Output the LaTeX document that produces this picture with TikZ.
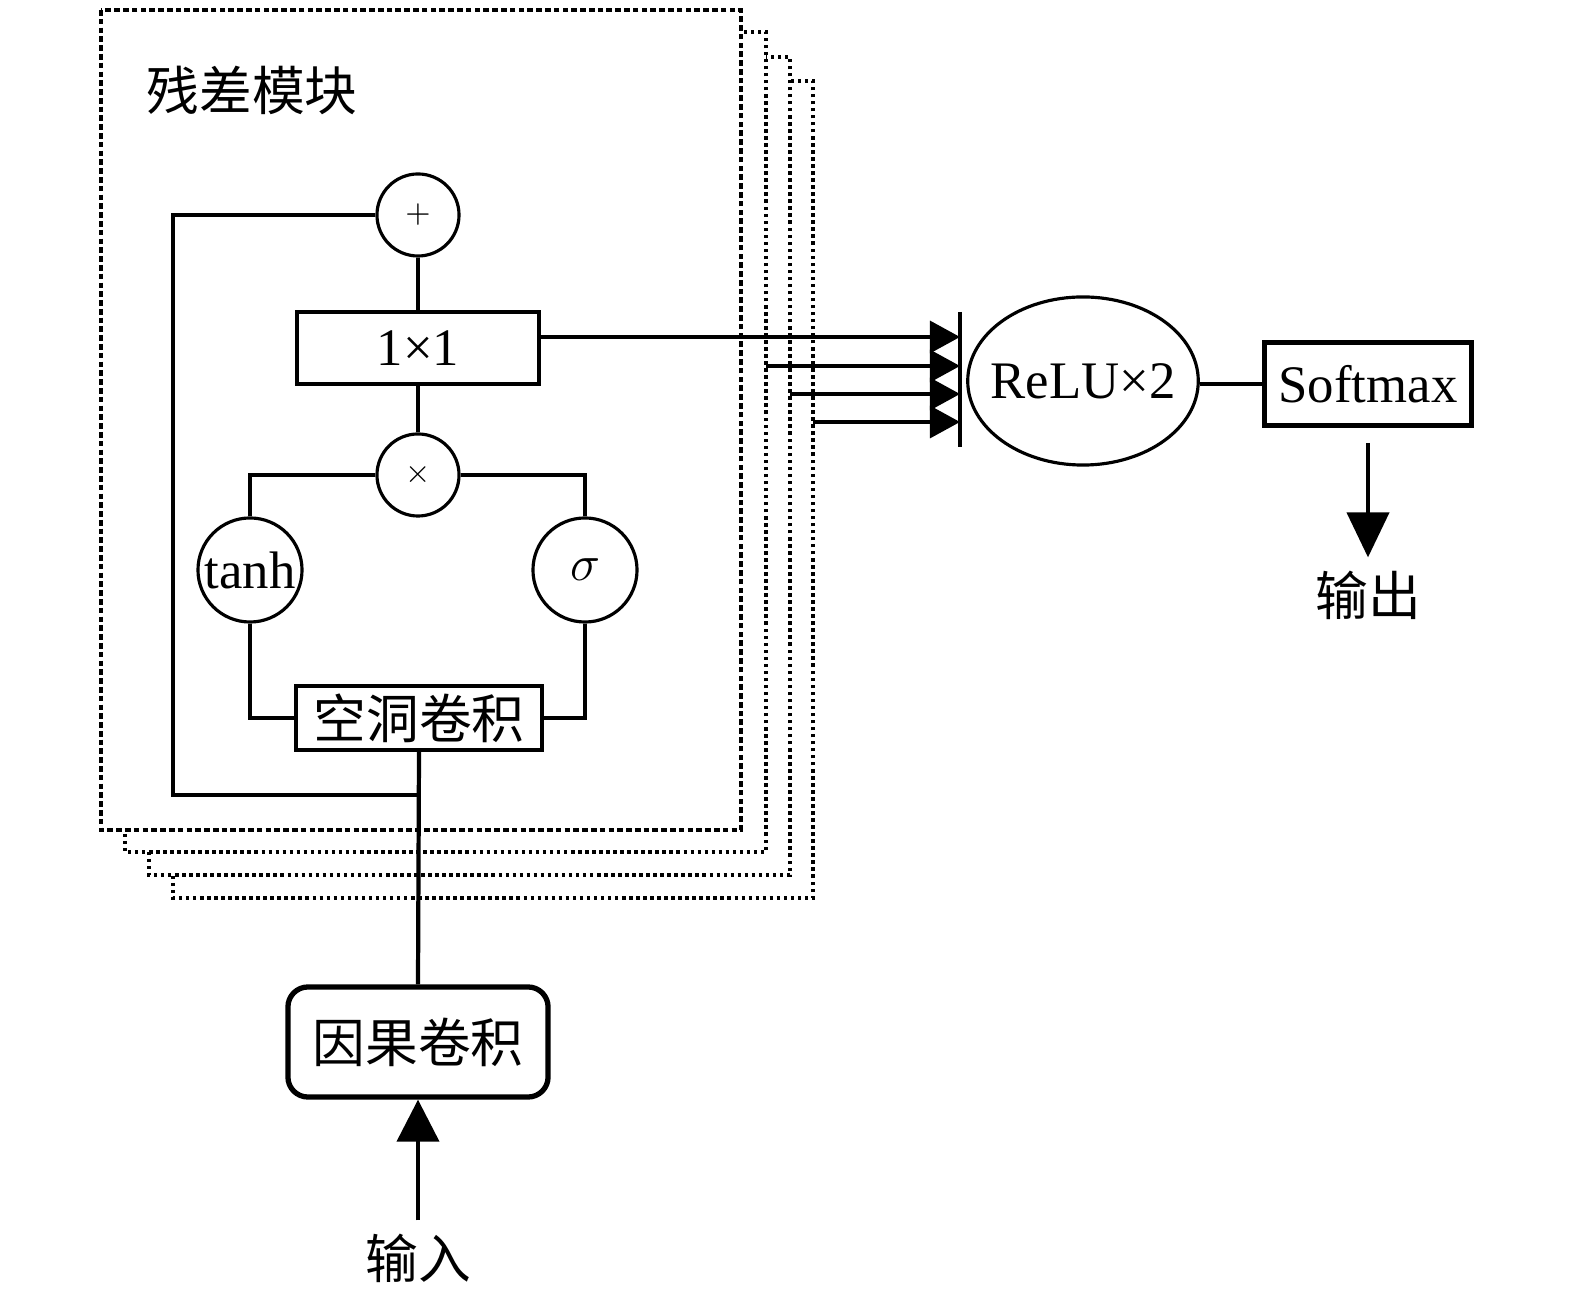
\documentclass[tikz,border=0pt]{standalone}
\usepackage{fontspec}
\setmainfont{Liberation Serif}
\newfontfamily\cjk{Noto Sans CJK SC}
\usetikzlibrary{arrows.meta,positioning,shapes.geometric,calc}

\begin{document}
\begin{tikzpicture}[x=0.01cm, y=-0.01cm, line width=0.9pt,
	every node/.style={font=\fontsize{15}{18}\selectfont},
	circ/.style={draw, circle, inner sep=0pt},
	blk/.style={draw, rectangle, inner sep=0pt},
	frm/.style={draw, fill=white, line width=1pt, dash pattern=on 1pt off 1pt},
	tip/.style={-{Triangle[length=0.3cm, width=0.32cm]}}]
				\useasboundingbox (0,0) rectangle (1575,1295);
				\draw[frm] (173,81) rectangle (813,898);
				\draw[frm] (149,57) rectangle (790,875);
				\draw[frm] (125,32) rectangle (766,852);
				\draw[frm, dash pattern=on 1.6pt off 0.9pt] (101,10) rectangle (741,830);
				\node (title) at (252,90) {\cjk 残差模块};
				\node[circ, minimum size=0.82cm, font=\fontsize{9}{10}\selectfont] (plus) at (418,215) {$+$};
				\node[blk, minimum width=2.42cm, minimum height=0.72cm] (conv11) at (418,348) {1×1};
				\node[circ, minimum size=0.82cm, font=\fontsize{9}{10}\selectfont] (mul) at (418,475) {$\times$};
				\node[circ, minimum size=1.04cm] (tanh) at (250,570) {tanh};
				\node[circ, minimum size=1.04cm] (sig) at (585,570) {$\sigma$};
				\node[blk, minimum width=2.46cm, minimum height=0.64cm] (dil) at (419,718) {\cjk 空洞卷积};
				\node[blk, rounded corners=0.2cm, line width=1.5pt, minimum width=2.6cm, minimum height=1.1cm] (causal) at (418,1042) {\cjk 因果卷积};
				\node (in) at (418,1258) {\cjk 输入};
				\node[draw, ellipse, inner xsep=-0.11cm, inner ysep=0pt, minimum width=2.24cm, minimum height=1.68cm] (relu) at (1083,381) {ReLU×2};
				\node[blk, line width=1.4pt, minimum width=2.07cm, minimum height=0.83cm] (soft) at (1368,384) {Softmax};
				\node (out) at (1368,595) {\cjk 输出};
				\coordinate (skip) at (418,795);
				\coordinate (f2) at (766,366); \coordinate (f3) at (790,394); \coordinate (f4) at (813,422);
				\coordinate (a1) at (960,337); \coordinate (a2) at (960,366); \coordinate (a3) at (960,394); \coordinate (a4) at (960,422);
				\coordinate (barT) at (960,312); \coordinate (barB) at (960,447);
				\draw (plus.south) -- (conv11.north); \draw (conv11.south) -- (mul.north);
				\draw (mul.west) -| (tanh.north); \draw (mul.east) -| (sig.north);
				\draw (tanh.south) |- (dil.west); \draw (sig.south) |- (dil.east);
				\draw (plus.west) -| (173,795) -- (skip);
				\draw[line width=1.2pt] (dil.south) -- (causal.north);
				\draw[-{Triangle[length=0.42cm, width=0.42cm]}, line width=1.2pt] (in.north) -- (causal.south);
				\draw[tip] (conv11.east |- a1) -- (a1); \draw[tip] (f2) -- (a2); \draw[tip] (f3) -- (a3); \draw[tip] (f4) -- (a4);
				\draw[line width=1pt] (barT) -- (barB);
				\draw (relu.east |- soft.west) -- (soft.west);
				\draw[-{Triangle[length=0.45cm, width=0.42cm]}, line width=1.2pt, shorten <=0.15cm] (soft.south) -- (out.north);
			\end{tikzpicture}
\end{document}
